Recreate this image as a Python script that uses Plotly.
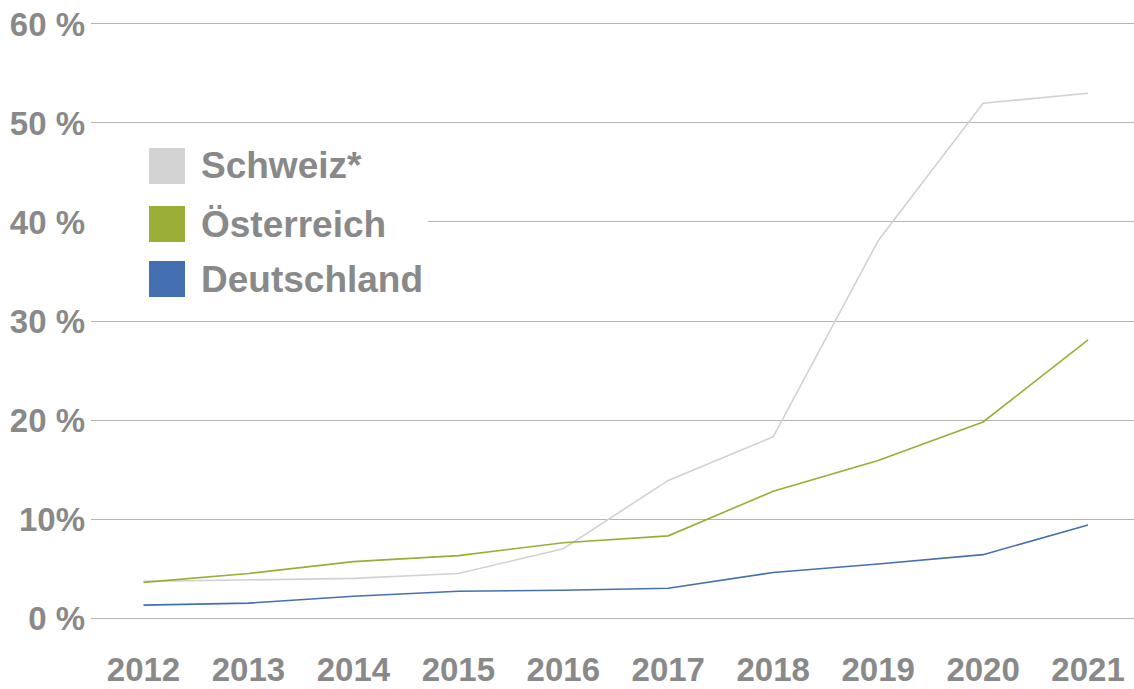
import plotly.graph_objects as go

years = ["2012", "2013", "2014", "2015", "2016", "2017", "2018", "2019", "2020", "2021"]
schweiz = [3.7, 3.85, 4.0, 4.5, 7.0, 13.9, 18.3, 38.1, 52.0, 53.0]
oesterreich = [3.6, 4.5, 5.7, 6.3, 7.6, 8.3, 12.8, 15.9, 19.8, 28.1]
deutschland = [1.3, 1.5, 2.2, 2.7, 2.8, 3.0, 4.6, 5.45, 6.4, 9.4]

series_names = ["Schweiz*", "Österreich", "Deutschland"]
series_values = [schweiz, oesterreich, deutschland]
line_colors = ["#d2d2d2", "#9aad37", "#4470b0"]
swatch_colors = ["#d3d3d3", "#9bae38", "#436eb0"]

y_tickvals = [0, 10, 20, 30, 40, 50, 60]
y_ticktext = ["0 %", "10%", "20 %", "30 %", "40 %", "50 %", "60 %"]

FONT = "Liberation Sans, Arial, sans-serif"
TXT = "#898989"

L, T, B = 91, 22, 69
W, H = 1134, 689
PW, PH = W - L, H - T - B


def px(x):
    return (x - L) / PW


def py(y):
    return (H - B - y) / PH


fig = go.Figure()
for name, vals, col in zip(series_names, series_values, line_colors):
    fig.add_trace(go.Scatter(x=list(range(len(years))), y=vals, name=name, mode="lines",
                             line=dict(color=col, width=1.6), showlegend=False))

# manual legend
shapes = [dict(type="rect", xref="paper", yref="paper", x0=px(87), x1=px(428),
               y0=py(302), y1=py(138), fillcolor="white", line=dict(width=0), layer="above")]
annotations = []
sw_top = [148, 206, 261]
for name, col, top in zip(series_names, swatch_colors, sw_top):
    shapes.append(dict(type="rect", xref="paper", yref="paper",
                       x0=px(149), x1=px(185), y0=py(top + 36), y1=py(top),
                       fillcolor=col, line=dict(width=0), layer="above"))
    annotations.append(dict(xref="paper", yref="paper", x=px(199), y=py(top + 18),
                            text=name, showarrow=False, xanchor="left", yanchor="middle",
                            font=dict(family=FONT, size=37, color=TXT, weight="bold")))

fig.update_layout(
    width=W, height=H,
    margin=dict(l=L, r=0, t=T, b=B, autoexpand=False),
    plot_bgcolor="white", paper_bgcolor="white",
    shapes=shapes, annotations=annotations,
    xaxis=dict(tickmode="array", tickvals=list(range(len(years))), ticktext=years,
               range=[-0.5, 9.438], showgrid=False, zeroline=False, showline=False,
               ticks="", ticklabelstandoff=27, automargin=False,
               tickfont=dict(family=FONT, size=33, color=TXT, weight="bold")),
    yaxis=dict(range=[-0.2, 60.2], tickvals=y_tickvals, ticktext=y_ticktext,
               showgrid=True, gridcolor="#b5b5b5", gridwidth=1, zeroline=False, showline=False,
               ticks="", ticklabelstandoff=5, automargin=False,
               tickfont=dict(family=FONT, size=33, color=TXT, weight="bold")),
)

fig.write_html("out.html", config={"displayModeBar": False},
               post_script="document.body.style.margin='0';document.body.style.overflow='hidden';")
